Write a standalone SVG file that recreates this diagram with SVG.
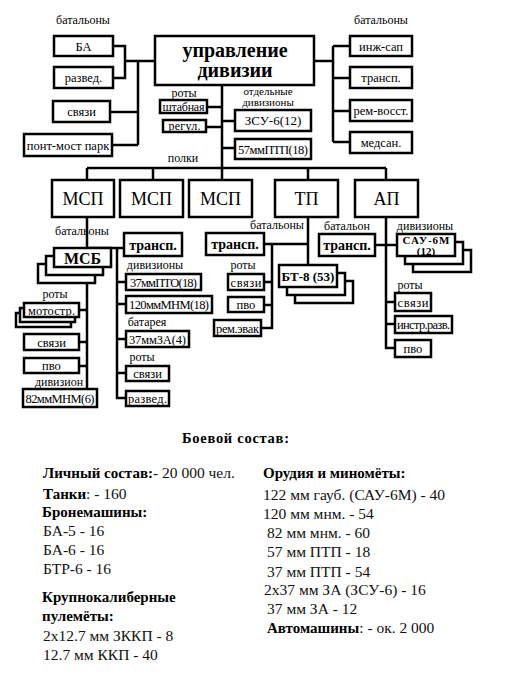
<svg xmlns="http://www.w3.org/2000/svg" width="516" height="691" viewBox="0 0 516 691">
<style>
.b{fill:#fff;stroke:#000;stroke-width:2.5}
.c{fill:none;stroke:#000;stroke-width:2.5}
text{font-family:"Liberation Serif","Times New Roman",serif;fill:#000}
.t{font-size:12.5px;text-anchor:middle}
.l{font-size:12px;text-anchor:middle}
.s{font-size:11px;text-anchor:middle}
.m{font-size:13px;text-anchor:middle}
.bb{font-size:14px;font-weight:bold;text-anchor:middle}
.big{font-size:18px;text-anchor:middle}
.hd{font-size:20px;font-weight:bold;text-anchor:middle}
.r{font-size:15.5px;fill:#111}
.rb{font-size:15px;font-weight:bold}
</style>
<rect width="516" height="691" fill="#fff"/>
<g id="connectors">
<path class="c" d="M114 46H125V78H114M125 61H154M138 61V145M111 112H138M113 145H138"/>
<path class="c" d="M314 61H333M333 46V142M333 46H349M333 78H349M333 111H349M333 142H349"/>
<path class="c" d="M222 85V179M207 107H222M206 127H222M222 121H234M222 148H234"/>
<path class="c" d="M87 168H386M87 168V179M153 168V179M308 168V179M386 168V179"/>
<path class="c" d="M87 217V388M80 310H87M80 342H87M80 366H87"/>
<path class="c" d="M87 248H123M117 248V398H125M117 282H125M117 304H125M117 339H125M117 373H125"/>
<path class="c" d="M308 217V264M265 244H308M272 244V328H262M265 282H272M265 305H272"/>
<path class="c" d="M386 217V348H394M376 245H396M386 302H394M386 324H394"/>
</g>
<g id="labels">
<text class="l" x="83" y="24">батальоны</text>
<text class="l" x="381" y="24">батальоны</text>
<text class="l" x="184" y="97">роты</text>
<text class="s" x="268" y="95">отдельные</text>
<text class="s" x="268" y="105.5">дивизионы</text>
<text class="l" x="183" y="162">полки</text>
<text class="l" x="82" y="235">батальоны</text>
<text class="l" x="55" y="298">роты</text>
<text class="l" x="59" y="386">дивизион</text>
<text class="l" x="155" y="269">дивизионы</text>
<text class="l" x="147" y="326">батарея</text>
<text class="l" x="142" y="361">роты</text>
<text class="l" x="277" y="229">батальоны</text>
<text class="l" x="243" y="269">роты</text>
<text class="l" x="347" y="230">батальон</text>
<text class="l" x="425" y="230">дивизионы</text>
<text class="l" x="410" y="289">роты</text>
</g>
<g id="upr"><rect class="b" x="155" y="36" width="159" height="49"/><text class="hd" x="235" y="57">управление</text><text class="hd" x="235" y="77">дивизии</text></g>
<g id="ba"><rect class="b" x="54" y="36" width="59" height="20"/><text class="t" x="83.5" y="50.5">БА</text></g>
<g id="razved"><rect class="b" x="54" y="67" width="59" height="21"/><text class="t" x="83.5" y="82">развед.</text></g>
<g id="svyazi"><rect class="b" x="53" y="101" width="57" height="21"/><text class="t" x="81.5" y="116">связи</text></g>
<g id="pont"><rect class="b" x="24" y="134" width="88" height="22"/><text class="t" x="68" y="149.5">понт-мост парк</text></g>
<g id="inzh"><rect class="b" x="350" y="36" width="62" height="20"/><text class="t" x="381" y="50.5">инж-сап</text></g>
<g id="transp1"><rect class="b" x="350" y="67" width="62" height="21"/><text class="t" x="381" y="82">трансп.</text></g>
<g id="rem"><rect class="b" x="350" y="100" width="62" height="21"/><text class="t" x="381" y="115">рем-восст.</text></g>
<g id="medsan"><rect class="b" x="350" y="132" width="62" height="21"/><text class="t" x="381" y="147">медсан.</text></g>
<g id="shtab"><rect class="b" x="160" y="100" width="47" height="13"/><text class="l" x="183.5" y="110.5" textLength="42">штабная</text></g>
<g id="regul"><rect class="b" x="163" y="120" width="43" height="12"/><text class="l" x="184.5" y="130" textLength="32">регул.</text></g>
<g id="zsu"><rect class="b" x="235" y="110" width="76" height="21"/><text class="m" x="273" y="125">ЗСУ-6(12)</text></g>
<g id="ptp57"><rect class="b" x="235" y="139" width="76" height="20"/><text class="t" x="273" y="153.5" textLength="70">57ммПТП(18)</text></g>
<g id="msp1"><rect class="b" x="52" y="180" width="62" height="37"/><text class="big" x="83" y="205">МСП</text></g>
<g id="msp2"><rect class="b" x="120" y="180" width="63" height="37"/><text class="big" x="151.5" y="205">МСП</text></g>
<g id="msp3"><rect class="b" x="189" y="180" width="63" height="37"/><text class="big" x="220.5" y="205">МСП</text></g>
<g id="tp"><rect class="b" x="275" y="180" width="63" height="37"/><text class="big" x="306.5" y="205">ТП</text></g>
<g id="ap"><rect class="b" x="355" y="180" width="63" height="37"/><text class="big" x="386.5" y="205">АП</text></g>
<g id="msb"><rect class="b" x="38" y="264" width="57" height="19"/><rect class="b" x="46" y="256" width="57" height="19"/><rect class="b" x="54" y="248" width="57" height="19"/><text class="bb" x="82.5" y="263.5" style="font-size:16px">МСБ</text></g>
<g id="motostr"><rect class="b" x="16" y="313" width="55" height="14"/><rect class="b" x="20" y="308" width="55" height="14"/><rect class="b" x="24" y="303" width="55" height="14"/><text class="t" x="51.5" y="314.5" textLength="47">мотостр.</text></g>
<g id="svyazi2"><rect class="b" x="24" y="334" width="55" height="16"/><text class="t" x="51.5" y="346.5">связи</text></g>
<g id="pvo1"><rect class="b" x="24" y="358" width="55" height="15"/><text class="t" x="51.5" y="370">пво</text></g>
<g id="mnm82"><rect class="b" x="23" y="389" width="74" height="18"/><text class="t" x="60" y="402.5" textLength="69">82ммМНМ(6)</text></g>
<g id="transp2"><rect class="b" x="124" y="233" width="58" height="23"/><text class="bb" x="153" y="249.5">трансп.</text></g>
<g id="pto37"><rect class="b" x="126" y="274" width="75" height="16"/><text class="t" x="163.5" y="286.5" textLength="67">37ммПТО(18)</text></g>
<g id="mnm120"><rect class="b" x="126" y="296" width="86" height="17"/><text class="t" x="169" y="309" textLength="80">120ммМНМ(18)</text></g>
<g id="za37"><rect class="b" x="126" y="331" width="63" height="16"/><text class="t" x="157.5" y="343.5" textLength="57">37ммЗА(4)</text></g>
<g id="svyazi3"><rect class="b" x="126" y="366" width="43" height="15"/><text class="t" x="147.5" y="378">связи</text></g>
<g id="razved2"><rect class="b" x="126" y="391" width="43" height="15"/><text class="t" x="147.5" y="403" textLength="39">развед.</text></g>
<g id="transp3"><rect class="b" x="206" y="233" width="58" height="22"/><text class="bb" x="235" y="249">трансп.</text></g>
<g id="svyazi4"><rect class="b" x="228" y="274" width="36" height="16"/><text class="t" x="246" y="286.5" textLength="31">связи</text></g>
<g id="pvo2"><rect class="b" x="228" y="297" width="36" height="15"/><text class="t" x="246" y="309">пво</text></g>
<g id="remevak"><rect class="b" x="214" y="320" width="47" height="16"/><text class="t" x="237.5" y="332.5" textLength="43">рем.эвак</text></g>
<g id="bt8"><rect class="b" x="295" y="281" width="58" height="22"/><rect class="b" x="287" y="273" width="58" height="22"/><rect class="b" x="279" y="265" width="58" height="22"/><text class="bb" x="308" y="280.5" style="font-size:13px">БТ-8 (53)</text></g>
<g id="transp4"><rect class="b" x="319" y="234" width="56" height="22"/><text class="bb" x="347" y="250">трансп.</text></g>
<g id="sau"><rect class="b" x="413" y="250" width="58" height="22"/><rect class="b" x="405" y="242" width="58" height="22"/><rect class="b" x="397" y="234" width="58" height="22"/><text class="bb" x="426" y="243.5" style="font-size:11px" textLength="47">САУ-6М</text><text class="bb" x="426" y="254.5" style="font-size:11px">(12)</text></g>
<g id="svyazi5"><rect class="b" x="395" y="293" width="36" height="18"/><text class="t" x="413" y="306.5" textLength="31">связи</text></g>
<g id="instr"><rect class="b" x="395" y="316" width="57" height="17"/><text class="t" x="423.5" y="329" textLength="53">инстр.разв.</text></g>
<g id="pvo3"><rect class="b" x="395" y="340" width="36" height="17"/><text class="t" x="413" y="353">пво</text></g>
<g id="summary">
<text class="rb" x="182" y="443" style="font-size:14.5px" textLength="107">Боевой состав:</text>
<text class="r" x="43" y="478"><tspan class="rb" fill="#000">Личный состав:</tspan>- 20 000 чел.</text>
<text class="r" x="43" y="499"><tspan class="rb" fill="#000">Танки</tspan>: - 160</text>
<text class="rb" x="42" y="517">Бронемашины:</text>
<text class="r" x="43" y="536">БА-5 - 16</text>
<text class="r" x="43" y="555">БА-6 - 16</text>
<text class="r" x="43" y="574">БТР-6 - 16</text>
<text class="rb" x="42" y="602">Крупнокалиберные</text>
<text class="rb" x="42" y="621">пулемёты:</text>
<text class="r" x="43" y="641">2x12.7 мм ЗККП - 8</text>
<text class="r" x="43" y="660">12.7 мм ККП - 40</text>
<text class="rb" x="263" y="478">Орудия и миномёты:</text>
<text class="r" x="263" y="500">122 мм гауб. (САУ-6М) - 40</text>
<text class="r" x="263" y="519">120 мм мнм. - 54</text>
<text class="r" x="267" y="538">82 мм мнм. - 60</text>
<text class="r" x="267" y="557">57 мм ПТП - 18</text>
<text class="r" x="267" y="577">37 мм ПТП - 54</text>
<text class="r" x="264" y="595">2x37 мм ЗА (ЗСУ-6) - 16</text>
<text class="r" x="267" y="614">37 мм ЗА - 12</text>
<text class="r" x="267" y="633"><tspan class="rb" fill="#000">Автомашины</tspan>: - ок. 2 000</text>
</g>
</svg>
